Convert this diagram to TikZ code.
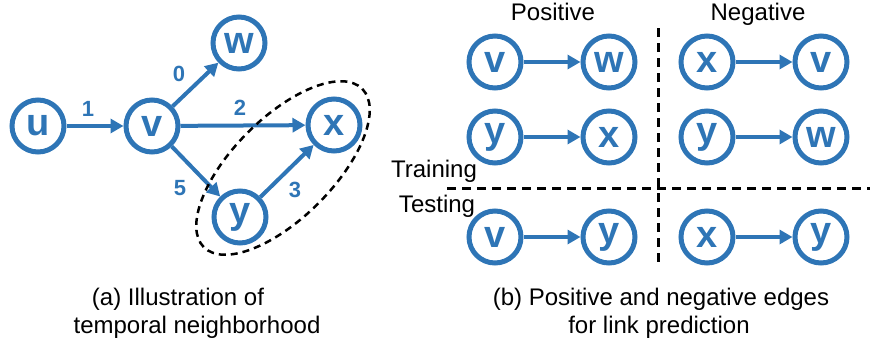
\documentclass[tikz,border=0pt]{standalone}
\usepackage{fontspec}
\setmainfont{Liberation Sans}
\usetikzlibrary{arrows.meta}
\definecolor{nodeblue}{HTML}{2E75B6}
\begin{document}
\begin{tikzpicture}[x=1pt, y=-1pt,
    nd/.style={circle, draw=nodeblue, line width=5pt, minimum size=52pt, inner sep=0pt,
        text=nodeblue, font=\fontsize{38}{38}\selectfont\bfseries},
    edg/.style={draw=nodeblue, line width=4pt, -{Triangle[length=13pt, width=14pt]}, nodeblue},
    lab/.style={text=nodeblue, font=\fontsize{22}{22}\selectfont\bfseries},
    txt/.style={font=\fontsize{24}{28}\selectfont, anchor=base, inner sep=0pt},
    split/.style={line width=3pt, dash pattern=on 9pt off 6pt}]
    \useasboundingbox (0,0) rectangle (870,348);
    \node[nd] (u) at (38,126) {u};
    \node[nd] (v) at (152,126) {v};
    \node[nd] (w) at (239,43) {w};
    \node[nd] (x) at (334,125) {x};
    \node[nd] (y) at (240,217) {y};
    \draw[edg] (u) -- (v);
    \draw[edg] (v) -- (w);
    \draw[edg] (v) -- (x);
    \draw[edg] (v) -- (y);
    \draw[edg] (y) -- (x);
    \node[lab] at (88,109) {1};
    \node[lab] at (179,74) {0};
    \node[lab] at (240,108) {2};
    \node[lab] at (180,188) {5};
    \node[lab] at (295,190) {3};
    \coordinate (nbr) at (283,168);
    \draw[line width=2.5pt, dash pattern=on 7pt off 5pt, rotate around={45:(nbr)}] (nbr) ellipse (112 and 50);
    \foreach \s/\t/\cx/\cy/\n in {v/w/495/62/tpa, y/x/495/137/tpb, v/y/495/237/spa,
        x/v/707/62/tna, y/w/707/137/tnb, x/y/707/237/sna}{
        \node[nd] (\n-s) at (\cx,\cy) {\s};
        \node[nd] (\n-t) at (\cx+114,\cy) {\t};
        \draw[edg] (\n-s) -- (\n-t);
    }
    \coordinate (vtop) at (658,28);
    \coordinate (vbot) at (658,267);
    \coordinate (hleft) at (447,188);
    \coordinate (hright) at (870,188);
    \draw[split] (vtop) -- (vbot);
    \draw[split] (hleft) -- (hright);
    \node[txt] (pos) at (553,20) {Positive};
    \node[txt] (neg) at (758,20) {Negative};
    \node[txt] (train) at (434,177) {Training};
    \node[txt] (test) at (437,212) {Testing};
    \node[txt] (capa1) at (178,305) {(a) Illustration of};
    \node[txt] (capa2) at (197,333) {temporal neighborhood};
    \node[txt] (capb1) at (661,305) {(b) Positive and negative edges};
    \node[txt] (capb2) at (659,333) {for link prediction};
\end{tikzpicture}
\end{document}
